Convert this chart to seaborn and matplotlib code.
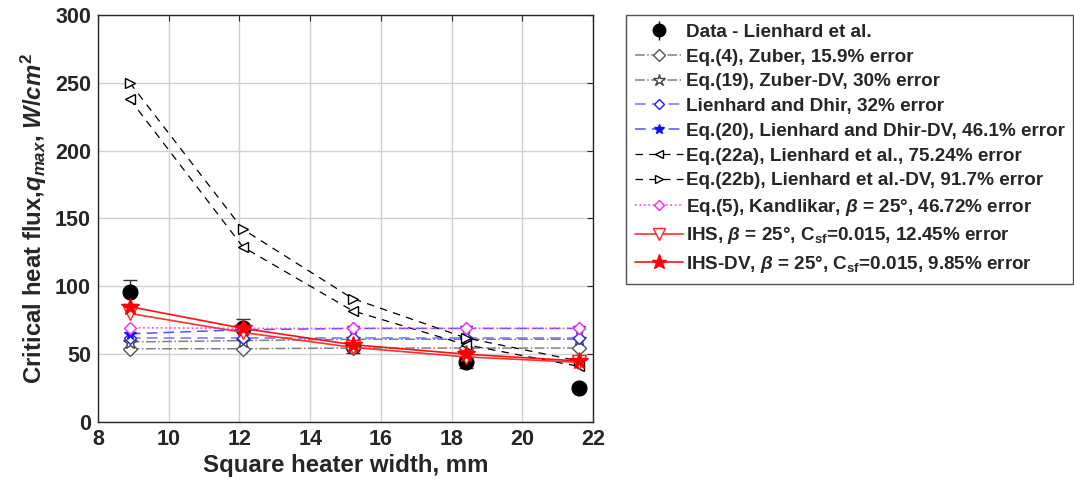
import matplotlib
matplotlib.use("Agg")
import matplotlib.pyplot as plt
import seaborn as sns
import numpy as np
import pandas as pd
from matplotlib.lines import Line2D

# ---- data ----
width_mm = [8.9, 12.1, 15.2, 18.4, 21.6]
data_lienhard = [96, 69, 56, 44, 25]
data_err = [9, 7, 5, 4, 2]
zuber = [54, 54, 54.5, 54.5, 54.5]
zuber_dv = [59, 60, 61, 61, 61]
lienhard_dhir = [62, 62, 62, 62, 62]
lienhard_dhir_dv = [65, 68, 69, 69, 69]
eq22a = [238, 129, 82, 57, 41]
eq22b = [250, 142, 91, 62, 45]
kandlikar = [69.5, 69, 69, 69, 69]
ihs = [80, 66, 55, 48, 44]
ihs_dv = [85, 69, 57, 50, 45]

labels = [
    "Data - Lienhard et al.",
    "Eq.(4), Zuber, 15.9% error",
    "Eq.(19), Zuber-DV, 30% error",
    "Lienhard and Dhir, 32% error",
    "Eq.(20), Lienhard and Dhir-DV, 46.1% error",
    "Eq.(22a), Lienhard et al., 75.24% error",
    "Eq.(22b), Lienhard et al.-DV, 91.7% error",
    r"Eq.(5), Kandlikar, $\beta$ = 25°, 46.72% error",
    r"IHS, $\beta$ = 25°, C$_{\mathbf{sf}}$=0.015, 12.45% error",
    r"IHS-DV, $\beta$ = 25°, C$_{\mathbf{sf}}$=0.015, 9.85% error",
]

sns.set_theme(style="white")
plt.rcParams["font.family"] = ["Liberation Sans", "DejaVu Sans"]
plt.rcParams["font.weight"] = "bold"
plt.rcParams["mathtext.fontset"] = "custom"
plt.rcParams["mathtext.rm"] = "Liberation Sans:bold"
plt.rcParams["mathtext.bf"] = "Liberation Sans:bold"
plt.rcParams["mathtext.it"] = "Liberation Sans:italic:bold"
plt.rcParams["mathtext.sf"] = "Liberation Sans:bold"

fig = plt.figure(figsize=(10.74, 4.9), dpi=100)
ax = fig.add_axes([98/1074, 68/490, (593-98)/1074, (422-15)/490])

# data with error bars
ax.errorbar(width_mm, data_lienhard, yerr=data_err, fmt="none", ecolor="#333333",
            elinewidth=1, capsize=5, capthick=1, zorder=2)
sns.scatterplot(x=width_mm, y=data_lienhard, ax=ax, color="black", s=115,
                marker="o", edgecolor="black", zorder=3)

series = [
    (zuber, dict(color="#808080", ls="-.", marker="D", mfc="white", mec="#555555", ms=7.5, lw=1.1)),
    (zuber_dv, dict(color="#808080", ls="-.", marker="*", mfc="white", mec="#444444", ms=10.5, lw=1.1)),
    (lienhard_dhir, dict(color="#7070ff", ls="--", marker="D", mfc="white", mec="#2020e0", ms=6.5, lw=1.1, dashes=(7, 4))),
    (lienhard_dhir_dv, dict(color="#5050ff", ls="--", marker="*", mfc="#1010ff", mec="#1010ff", ms=8.5, lw=1.1, dashes=(7, 4))),
    (eq22a, dict(color="black", ls="--", marker="<", mfc="white", mec="black", ms=7.5, lw=0.9, dashes=(6, 5))),
    (eq22b, dict(color="black", ls="--", marker=">", mfc="white", mec="black", ms=7.5, lw=0.9, dashes=(6, 5))),
    (kandlikar, dict(color="#ff40ff", ls=":", marker="D", mfc="white", mec="#ff20ff", ms=6.5, lw=1.2)),
    (ihs, dict(color="#ff3030", ls="-", marker="v", mfc="white", mec="#ff2020", ms=10.5, lw=1.2)),
    (ihs_dv, dict(color="#ff1010", ls="-", marker="*", mfc="#ff0000", mec="#ff0000", ms=13, lw=1.2)),
]

handles = []
for vals, st in series:
    df = pd.DataFrame({"x": width_mm, "y": vals})
    kw = dict(st)
    color = kw.pop("color")
    ls = kw.pop("ls")
    dashes = kw.pop("dashes", None)
    sns.lineplot(data=df, x="x", y="y", ax=ax, color=color, linestyle=ls,
                 marker=kw["marker"], markerfacecolor=kw["mfc"], markeredgecolor=kw["mec"],
                 markersize=kw["ms"], linewidth=kw["lw"], markeredgewidth=1, zorder=4)
    line = ax.lines[-1]
    if dashes is not None:
        line.set_dashes(dashes)
    h = Line2D([], [], color=color, linestyle=ls, marker=kw["marker"], markerfacecolor=kw["mfc"],
               markeredgecolor=kw["mec"], markersize=kw["ms"] * 0.85, linewidth=kw["lw"])
    if dashes is not None:
        h.set_dashes(dashes)
    handles.append(h)

data_handle = ax.errorbar([], [], yerr=[], fmt="o", color="black", ms=9, capsize=4, ecolor="black", elinewidth=1)
handles = [data_handle] + handles

ax.set_xlim(8, 22)
ax.set_ylim(0, 300)
ax.set_xticks(np.arange(8, 23, 2))
ax.set_yticks(np.arange(0, 301, 50))
ax.grid(True, color="#d0d0d0", linewidth=1)
ax.set_axisbelow(True)
for sp in ax.spines.values():
    sp.set_color("#262626")
    sp.set_linewidth(1)
    sp.set_visible(True)
ax.tick_params(direction="in", length=4, width=0.8, top=True, right=True,
               labelsize=15.5, colors="#262626", pad=5)
for t in ax.get_xticklabels() + ax.get_yticklabels():
    t.set_fontweight("bold")
    t.set_color("#262626")

ax.set_xlabel("Square heater width, mm", fontsize=17.3, fontweight="bold", color="#262626", labelpad=3)
ax.set_ylabel(r"Critical heat flux,$q_{max}$, $W/cm^2$", fontsize=17.3, fontweight="bold",
              color="#262626", labelpad=4)

leg = fig.legend(handles, labels, loc="upper left", bbox_to_anchor=(626/1074, 1 - 15/490),
                 fontsize=13.6, frameon=True, fancybox=False, edgecolor="#262626",
                 handlelength=2.55, handletextpad=0.15, labelspacing=0.4, borderpad=0.45,
                 borderaxespad=0)
leg.get_frame().set_linewidth(1)
for t in leg.get_texts():
    t.set_fontweight("bold")

fig.savefig("out.png", dpi=100)
